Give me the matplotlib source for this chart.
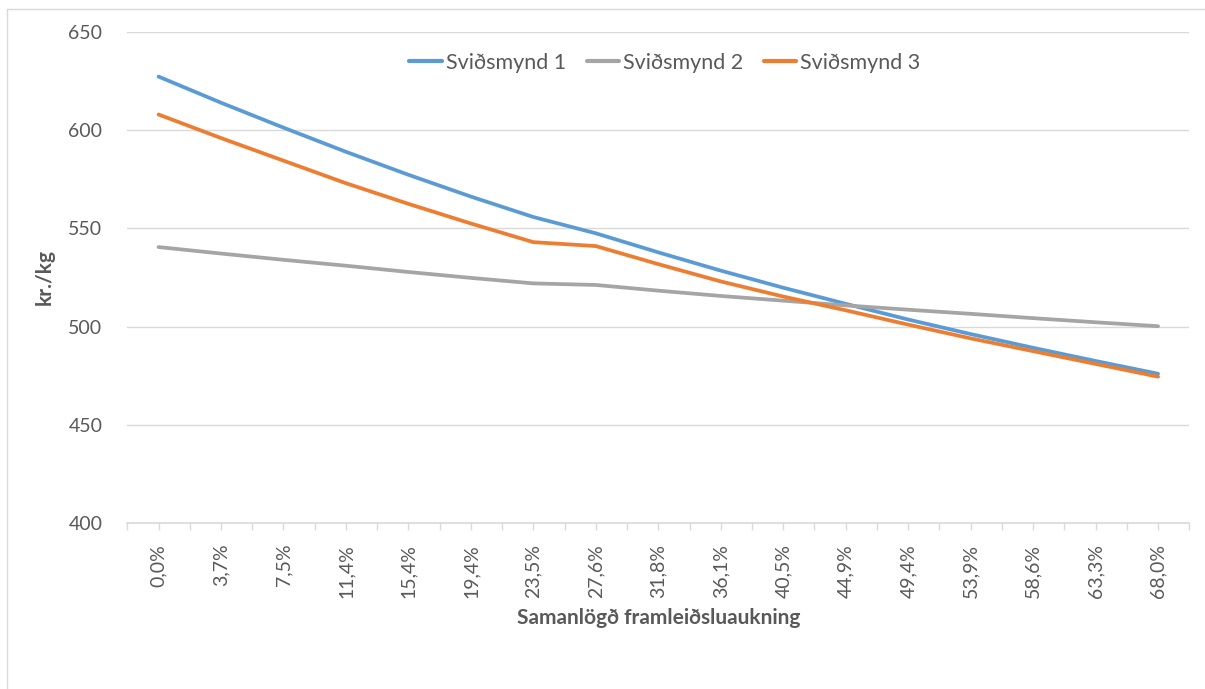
import matplotlib
matplotlib.use("Agg")
import matplotlib.pyplot as plt
from matplotlib.patches import Rectangle

plt.rcParams['font.family'] = ['Lato', 'DejaVu Sans']

# Cumulative production increase (category labels)
categories = ["0,0%", "3,7%", "7,5%", "11,4%", "15,4%", "19,4%", "23,5%", "27,6%",
              "31,8%", "36,1%", "40,5%", "44,9%", "49,4%", "53,9%", "58,6%",
              "63,3%", "68,0%"]

# Price per kg under each scenario
svidsmynd_1 = [627.3, 614.0, 601.3, 589.0, 577.3, 566.2, 555.8, 547.5, 537.8,
               528.5, 519.8, 511.6, 503.6, 496.2, 489.2, 482.5, 476.0]
svidsmynd_2 = [540.5, 537.2, 534.0, 531.0, 527.8, 524.8, 522.0, 521.2, 518.3,
               515.6, 513.2, 510.8, 508.6, 506.5, 504.3, 502.2, 500.2]
svidsmynd_3 = [608.0, 596.0, 584.5, 573.0, 562.5, 552.5, 543.0, 541.0, 531.8,
               523.0, 515.3, 508.3, 501.0, 494.0, 487.5, 481.0, 474.5]

series_names = ["Sviðsmynd 1", "Sviðsmynd 2", "Sviðsmynd 3"]
colors = ["#5B9BD5", "#A5A5A5", "#ED7D31"]
y_ticks = [400, 450, 500, 550, 600, 650]

W, H = 1205, 689
fig = plt.figure(figsize=(W / 100, H / 100), dpi=100)
fig.patch.set_facecolor("white")

# Chart-area border
fig.patches.append(Rectangle((7 / W, -0.1), 1.2, 1 - 9 / H + 0.1,
                             transform=fig.transFigure, fill=False,
                             edgecolor="#D9D9D9", linewidth=1.0))

left, right, top, bottom = 127.3, 1189.3, 32, 523
ax = fig.add_axes([left / W, 1 - bottom / H, (right - left) / W, (bottom - top) / H])

# Categories sit on every other tick; one empty slot at each end
n_slots = 2 * len(categories) + 1
xs = [2 * i + 1 for i in range(len(categories))]

for vals, name, col in zip([svidsmynd_1, svidsmynd_2, svidsmynd_3], series_names, colors):
    ax.plot(xs, vals, color=col, linewidth=2.7, label=name,
            solid_capstyle="round", zorder=3)

ax.set_xlim(0, n_slots - 1)
ax.set_ylim(y_ticks[0], y_ticks[-1])
ax.set_yticks(y_ticks)
ax.set_xticks(range(n_slots))
labels = [""] * n_slots
for x, c in zip(xs, categories):
    labels[x] = c
ax.set_xticklabels(labels, rotation=90, va="top", ha="center")

ax.grid(axis="y", color="#D9D9D9", linewidth=1.0, zorder=0)
for s in ["left", "right", "top"]:
    ax.spines[s].set_visible(False)
ax.spines["bottom"].set_color("#D9D9D9")
ax.spines["bottom"].set_linewidth(1.2)

ax.tick_params(axis="y", length=0, pad=18, labelsize=14, labelcolor="#595959")
ax.tick_params(axis="x", length=5, width=1.0, color="#D9D9D9", pad=10,
               labelsize=14, labelcolor="#595959")

ax.set_xlabel("Samanlögð framleiðsluaukning", fontsize=15, fontweight="bold",
              color="#595959", labelpad=7)
ax.set_ylabel("kr./kg", fontsize=15, fontweight="bold", color="#595959", labelpad=10)

leg = fig.legend(loc="center", bbox_to_anchor=(665 / W, 1 - 63 / H),
                 bbox_transform=fig.transFigure, ncol=3, frameon=False,
                 fontsize=15.5, handlelength=1.5, handletextpad=0.2,
                 columnspacing=0.95, labelcolor="#595959")
for line in leg.get_lines():
    line.set_linewidth(3.0)

fig.savefig("out.png", dpi=100, facecolor="white")
